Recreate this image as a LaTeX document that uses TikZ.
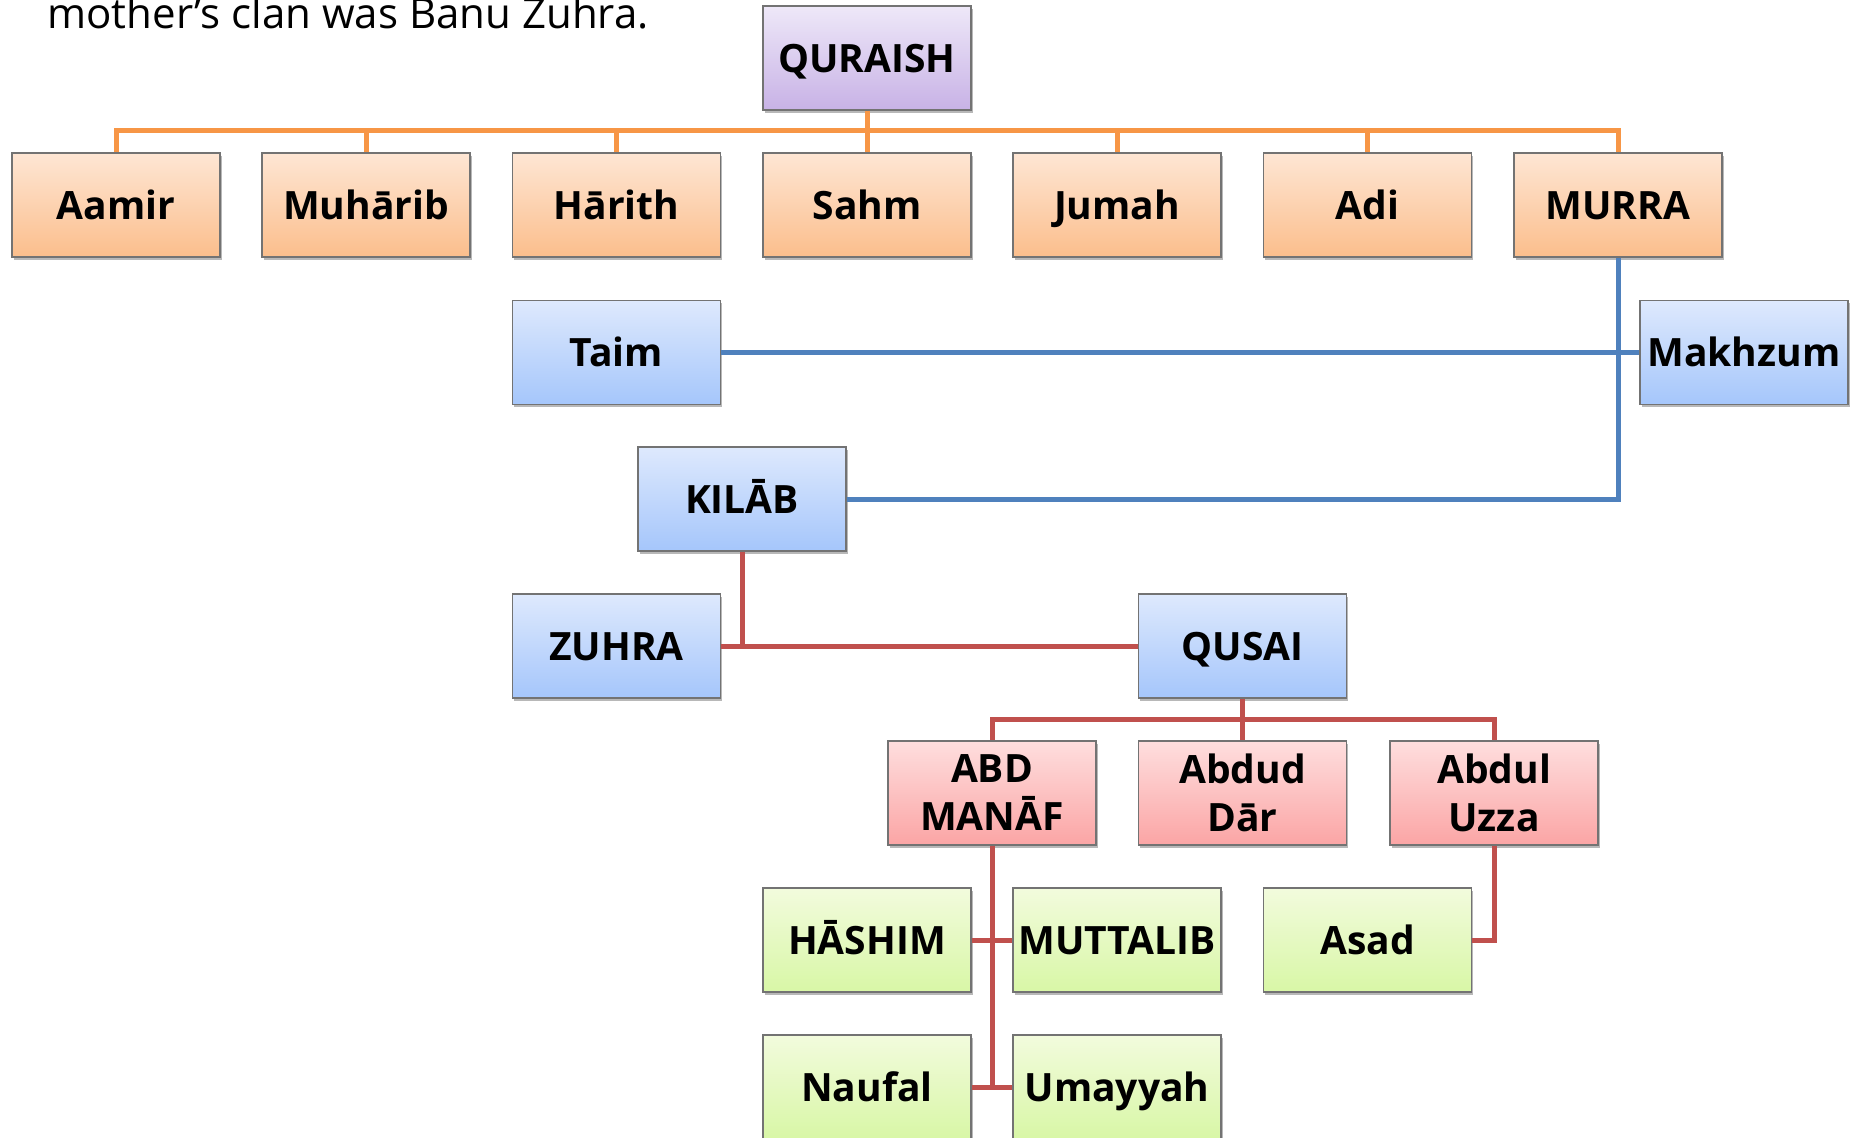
\documentclass[tikz,border=0pt]{standalone}
\usepackage{fontspec}
\setmainfont{Open Sans}
\usetikzlibrary{shadows}

\definecolor{orline}{HTML}{F79646}
\definecolor{blline}{HTML}{4F81BD}
\definecolor{rdline}{HTML}{C0504D}
\definecolor{ortop}{HTML}{FEE6D4}
\definecolor{orbot}{HTML}{FBBE8C}
\definecolor{bltop}{HTML}{DEE9FD}
\definecolor{blbot}{HTML}{A5C6FB}
\definecolor{pptop}{HTML}{EEE8F8}
\definecolor{ppbot}{HTML}{C8B2E6}
\definecolor{rdtop}{HTML}{FEDEDE}
\definecolor{rdbot}{HTML}{FBA5A5}
\definecolor{grtop}{HTML}{F2FBDD}
\definecolor{grbot}{HTML}{D8F7A6}

\tikzset{
	clan/.style={draw=black!55, line width=0.6pt, minimum width=104pt, minimum height=52pt,
		inner sep=0pt, align=center, font=\fontsize{19.5}{24}\selectfont\bfseries,
		text height=14pt, text depth=0pt,
		drop shadow={shadow xshift=0.9pt, shadow yshift=-1.3pt, fill=black, opacity=0.28}},
	twoline/.style={text height=, text depth=},
	orbox/.style={clan, top color=ortop, bottom color=orbot},
	blbox/.style={clan, top color=bltop, bottom color=blbot},
	ppbox/.style={clan, top color=pptop, bottom color=ppbot},
	rdbox/.style={clan, twoline, top color=rdtop, bottom color=rdbot},
	grbox/.style={clan, top color=grtop, bottom color=grbot},
	orlink/.style={orline, line width=2.5pt},
	bllink/.style={blline, line width=2.5pt},
	rdlink/.style={rdline, line width=2.5pt}
}

\begin{document}
\begin{tikzpicture}[x=0.5pt,y=-0.5pt]
	\useasboundingbox (0,0) rectangle (1852,1137);
	\clip (0,0) rectangle (1852,1137);
	\fill[white] (0,0) rectangle (1852,1137);
	\node[anchor=base west, inner sep=0pt, font=\fontsize{21}{25}\selectfont] (note) at (47,28) {mother’s clan was Banu Zuhra.};
	% connectors
	\coordinate (obus) at (867,130);
	\coordinate (rbus) at (1242.5,719);
	% boxes
	\node[ppbox] (quraish) at (867,58) {QURAISH};
	\node[orbox] (aamir) at (116,205) {Aamir};
	\node[orbox] (muharib) at (366,205) {Muhārib};
	\node[orbox] (harith) at (616.5,205) {Hārith};
	\node[orbox] (sahm) at (867,205) {Sahm};
	\node[orbox] (jumah) at (1117,205) {Jumah};
	\node[orbox] (adi) at (1367.5,205) {Adi};
	\node[orbox] (murra) at (1618,205) {MURRA};
	\node[blbox] (taim) at (616.5,352.5) {Taim};
	\node[blbox] (makhzum) at (1744,352.5) {Makhzum};
	\node[blbox] (kilab) at (742,499) {KILĀB};
	\node[blbox] (zuhra) at (616.5,646) {ZUHRA};
	\node[blbox] (qusai) at (1242.5,646) {QUSAI};
	\node[rdbox] (abdmanaf) at (992,793) {ABD\\MANĀF};
	\node[rdbox] (abduddar) at (1242.5,793) {Abdud\\Dār};
	\node[rdbox] (abduluzza) at (1494,793) {Abdul\\Uzza};
	\node[grbox] (hashim) at (867,940) {HĀSHIM};
	\node[grbox] (muttalib) at (1117,940) {MUTTALIB};
	\node[grbox] (asad) at (1367.5,940) {Asad};
	\node[grbox] (naufal) at (867,1087) {Naufal};
	\node[grbox] (umayyah) at (1117,1087) {Umayyah};
	% orange tree
	\draw[orlink] (quraish.south) -- (obus);
	\foreach \n in {aamir,muharib,harith,sahm,jumah,adi,murra}
		\draw[orlink] (obus) -| (\n.north);
	% blue lines
	\draw[bllink] (murra.south) |- (kilab.east);
	\draw[bllink] (taim.east) -- (makhzum.west);
	% red lines
	\draw[rdlink] (kilab.south) |- (zuhra.east);
	\draw[rdlink] (zuhra.east) -- (qusai.west);
	\draw[rdlink] (qusai.south) -- (rbus);
	\foreach \n in {abdmanaf,abduddar,abduluzza}
		\draw[rdlink] (rbus) -| (\n.north);
	\draw[rdlink] (abdmanaf.south) -- (abdmanaf.south |- naufal.east);
	\draw[rdlink] (hashim.east) -- (muttalib.west);
	\draw[rdlink] (naufal.east) -- (umayyah.west);
	\draw[rdlink] (abduluzza.south) |- (asad.east);
\end{tikzpicture}
\end{document}
